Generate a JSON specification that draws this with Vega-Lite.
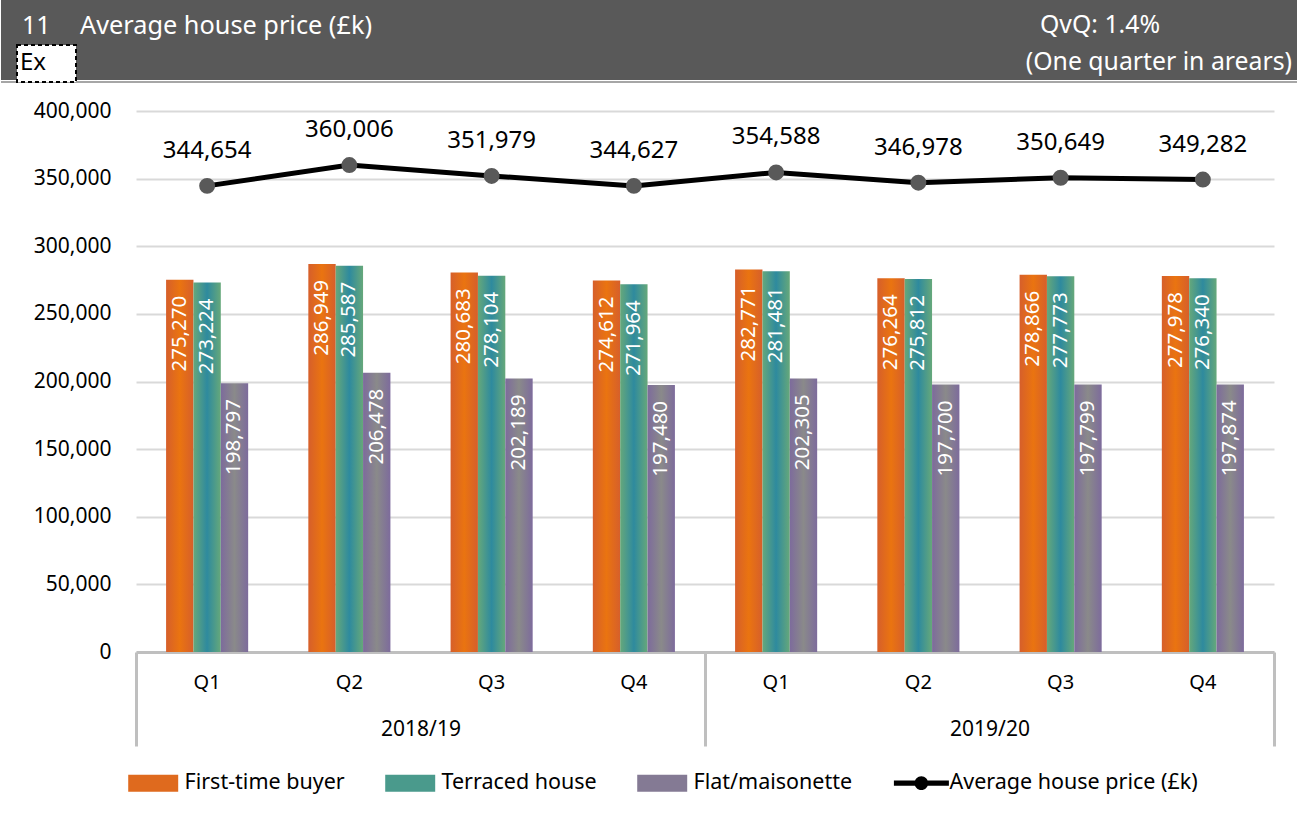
{
  "$schema": "https://vega.github.io/schema/vega-lite/v6.json",
  "padding": 0,
  "autosize": {"type": "pad"},
  "background": "white",
  "config": {"font": "Noto Sans", "view": {"stroke": null}},
  "datasets": {
    "prices": [
      {"year": "2018/19", "period": "2018/19 Q1", "series": "First-time buyer", "value": 275270},
      {"year": "2018/19", "period": "2018/19 Q1", "series": "Terraced house", "value": 273224},
      {"year": "2018/19", "period": "2018/19 Q1", "series": "Flat/maisonette", "value": 198797},
      {"year": "2018/19", "period": "2018/19 Q1", "series": "Average house price (£k)", "value": 344654},
      {"year": "2018/19", "period": "2018/19 Q2", "series": "First-time buyer", "value": 286949},
      {"year": "2018/19", "period": "2018/19 Q2", "series": "Terraced house", "value": 285587},
      {"year": "2018/19", "period": "2018/19 Q2", "series": "Flat/maisonette", "value": 206478},
      {"year": "2018/19", "period": "2018/19 Q2", "series": "Average house price (£k)", "value": 360006},
      {"year": "2018/19", "period": "2018/19 Q3", "series": "First-time buyer", "value": 280683},
      {"year": "2018/19", "period": "2018/19 Q3", "series": "Terraced house", "value": 278104},
      {"year": "2018/19", "period": "2018/19 Q3", "series": "Flat/maisonette", "value": 202189},
      {"year": "2018/19", "period": "2018/19 Q3", "series": "Average house price (£k)", "value": 351979},
      {"year": "2018/19", "period": "2018/19 Q4", "series": "First-time buyer", "value": 274612},
      {"year": "2018/19", "period": "2018/19 Q4", "series": "Terraced house", "value": 271964},
      {"year": "2018/19", "period": "2018/19 Q4", "series": "Flat/maisonette", "value": 197480},
      {"year": "2018/19", "period": "2018/19 Q4", "series": "Average house price (£k)", "value": 344627},
      {"year": "2019/20", "period": "2019/20 Q1", "series": "First-time buyer", "value": 282771},
      {"year": "2019/20", "period": "2019/20 Q1", "series": "Terraced house", "value": 281481},
      {"year": "2019/20", "period": "2019/20 Q1", "series": "Flat/maisonette", "value": 202305},
      {"year": "2019/20", "period": "2019/20 Q1", "series": "Average house price (£k)", "value": 354588},
      {"year": "2019/20", "period": "2019/20 Q2", "series": "First-time buyer", "value": 276264},
      {"year": "2019/20", "period": "2019/20 Q2", "series": "Terraced house", "value": 275812},
      {"year": "2019/20", "period": "2019/20 Q2", "series": "Flat/maisonette", "value": 197700},
      {"year": "2019/20", "period": "2019/20 Q2", "series": "Average house price (£k)", "value": 346978},
      {"year": "2019/20", "period": "2019/20 Q3", "series": "First-time buyer", "value": 278866},
      {"year": "2019/20", "period": "2019/20 Q3", "series": "Terraced house", "value": 277773},
      {"year": "2019/20", "period": "2019/20 Q3", "series": "Flat/maisonette", "value": 197799},
      {"year": "2019/20", "period": "2019/20 Q3", "series": "Average house price (£k)", "value": 350649},
      {"year": "2019/20", "period": "2019/20 Q4", "series": "First-time buyer", "value": 277978},
      {"year": "2019/20", "period": "2019/20 Q4", "series": "Terraced house", "value": 276340},
      {"year": "2019/20", "period": "2019/20 Q4", "series": "Flat/maisonette", "value": 197874},
      {"year": "2019/20", "period": "2019/20 Q4", "series": "Average house price (£k)", "value": 349282}
    ]
  },
  "columns": 1,
  "align": "none",
  "spacing": 17,
  "concat": [
    {
      "width": 1162,
      "height": 80,
      "data": {"values": [{}]},
      "encoding": {
        "x": {"type": "quantitative", "scale": {"domain": [135, 1297], "nice": false, "zero": false}, "axis": null},
        "y": {"type": "quantitative", "scale": {"domain": [0, 80], "nice": false, "zero": false, "reverse": true}, "axis": null}
      },
      "layer": [
        {"mark": {"type": "rect", "fill": "#595959"}, "encoding": {"x": {"datum": 0}, "x2": {"datum": 1297}, "y": {"datum": 0}, "y2": {"datum": 80}}},
        {"mark": {"type": "rule", "color": "#a6a6a6", "strokeWidth": 2}, "encoding": {"x": {"datum": 0}, "x2": {"datum": 1297}, "y": {"datum": 82}}},
        {"mark": {"type": "text", "text": "11", "align": "left", "baseline": "middle", "fontSize": 25, "color": "white"}, "encoding": {"x": {"datum": 21}, "y": {"datum": 26}}},
        {"mark": {"type": "text", "text": "Average house price (£k)", "align": "left", "baseline": "middle", "fontSize": 25.3, "color": "white"}, "encoding": {"x": {"datum": 79}, "y": {"datum": 26}}},
        {"mark": {"type": "text", "text": "QvQ: 1.4%", "align": "left", "baseline": "middle", "fontSize": 24.8, "color": "white"}, "encoding": {"x": {"datum": 1039}, "y": {"datum": 26}}},
        {"mark": {"type": "text", "text": "(One quarter in arears)", "align": "right", "baseline": "middle", "fontSize": 24.8, "color": "white"}, "encoding": {"x": {"datum": 1291}, "y": {"datum": 63}}},
        {"mark": {"type": "rect", "fill": "white", "stroke": "black", "strokeWidth": 2, "strokeDash": [4, 3]}, "encoding": {"x": {"datum": 16}, "x2": {"datum": 75}, "y": {"datum": 45}, "y2": {"datum": 82}}},
        {"mark": {"type": "text", "text": "Ex", "align": "left", "baseline": "middle", "fontSize": 24, "color": "black"}, "encoding": {"x": {"datum": 19}, "y": {"datum": 63}}}
      ]
    },
    {
      "width": 1138,
      "height": 541,
      "data": {"name": "prices"},
      "layer": [
        {
          "encoding": {
            "x": {
              "field": "period", "type": "nominal", "sort": null,
              "scale": {"paddingInner": 0.423, "paddingOuter": 0.2115},
              "axis": {"orient": "bottom", "title": null, "labelExpr": "split(datum.label, ' ')[1]", "labelAngle": 0, "labelFontSize": 20, "labelColor": "#000000", "labelPadding": 20, "ticks": false, "domainColor": "#bfbfbf", "domainWidth": 3, "grid": false}
            },
            "y": {
              "field": "value", "type": "quantitative",
              "scale": {"domain": [0, 400000], "nice": false},
              "axis": {"title": null, "values": [0, 50000, 100000, 150000, 200000, 250000, 300000, 350000, 400000], "format": ",.0f", "labelFontSize": 21, "labelColor": "#000000", "labelPadding": 25, "ticks": false, "domain": false, "gridColor": "#d9d9d9", "gridWidth": 2, "minExtent": 135}
            },
            "xOffset": {"field": "series", "type": "nominal", "scale": {"domain": ["First-time buyer", "Terraced house", "Flat/maisonette"], "paddingInner": 0, "paddingOuter": 0}}
          },
          "layer": [
            {
              "transform": [{"filter": "datum.series === 'First-time buyer'"}],
              "mark": {"type": "bar", "fill": {"gradient": "linear", "x1": 0, "y1": 0, "x2": 1, "y2": 0, "stops": [{"offset": 0, "color": "#d65f2b"}, {"offset": 0.5, "color": "#ea7410"}, {"offset": 1, "color": "#d65f2b"}]}}
            },
            {
              "transform": [{"filter": "datum.series === 'Terraced house'"}],
              "mark": {"type": "bar", "fill": {"gradient": "linear", "x1": 0, "y1": 0, "x2": 1, "y2": 0, "stops": [{"offset": 0, "color": "#66a87a"}, {"offset": 0.5, "color": "#2e8a9e"}, {"offset": 1, "color": "#66a87a"}]}}
            },
            {
              "transform": [{"filter": "datum.series === 'Flat/maisonette'"}],
              "mark": {"type": "bar", "fill": {"gradient": "linear", "x1": 0, "y1": 0, "x2": 1, "y2": 0, "stops": [{"offset": 0, "color": "#7d6b9c"}, {"offset": 0.5, "color": "#8a8a8a"}, {"offset": 1, "color": "#7d6b9c"}]}}
            },
            {
              "transform": [{"filter": "datum.series !== 'Average house price (£k)'"}],
              "mark": {"type": "text", "angle": 270, "align": "right", "baseline": "middle", "dx": -16, "color": "white", "fontSize": 20.5},
              "encoding": {
                "text": {"field": "value", "type": "quantitative", "format": ","}
              }
            },
            {
              "transform": [{"filter": "datum.series === 'Average house price (£k)'"}],
              "mark": {"type": "line", "strokeWidth": 5},
              "encoding": {
                "xOffset": null,
                "color": {
                  "field": "series", "type": "nominal",
                  "scale": {
                    "domain": ["First-time buyer", "Terraced house", "Flat/maisonette", "Average house price (£k)"],
                    "range": ["#df6a1e", "#4a9a8c", "#847a94", "#000000"]
                  },
                  "legend": {
                    "orient": "bottom", "direction": "horizontal", "title": null,
                    "labelFontSize": 21.5, "labelColor": "#000000", "labelFont": "Noto Sans", "labelLimit": 400,
                    "symbolSize": 289, "symbolStrokeWidth": 0, "labelOffset": 27, "columnPadding": 40, "offset": 24,
                    "encode": {
                      "symbols": {
                        "update": {
                          "shape": {"signal": "datum.value === 'Average house price (£k)' ? 'M-2.1,-0.3H4.37V0.3H-2.1Z M1.93,0A0.8,0.8 0 1 1 0.33,0A0.8,0.8 0 1 1 1.93,0Z' : 'M-2.18,-1H3.7V1H-2.18Z'"},
                          "fill": {"scale": "color", "field": "value"},
                          "strokeWidth": {"value": 0},
                          "opacity": {"value": 1}
                        }
                      }
                    }
                  }
                }
              }
            },
            {
              "transform": [{"filter": "datum.series === 'Average house price (£k)'"}],
              "mark": {"type": "point", "filled": true, "size": 254, "color": "#595959", "opacity": 1},
              "encoding": {"xOffset": null}
            },
            {
              "transform": [{"filter": "datum.series === 'Average house price (£k)'"}],
              "mark": {"type": "text", "dy": -35, "fontSize": 24, "color": "#000000", "baseline": "middle"},
              "encoding": {
                "xOffset": null,
                "text": {"field": "value", "type": "quantitative", "format": ","}
              }
            }
          ]
        },
        {
          "transform": [{"filter": "datum.series === 'Average house price (£k)'"}],
          "mark": {"type": "point", "opacity": 0},
          "encoding": {
            "x": {
              "field": "year", "type": "nominal",
              "scale": {"type": "band", "paddingInner": 0, "paddingOuter": 0},
              "axis": {"orient": "bottom", "title": null, "labelAngle": 0, "tickBand": "extent", "ticks": true, "tickSize": 94, "tickColor": "#bfbfbf", "tickWidth": 3, "domain": false, "labelPadding": -28, "labelFontSize": 21, "labelColor": "#000000", "grid": false}
            }
          }
        }
      ],
      "resolve": {"scale": {"x": "independent"}, "axis": {"x": "independent"}}
    }
  ]
}
